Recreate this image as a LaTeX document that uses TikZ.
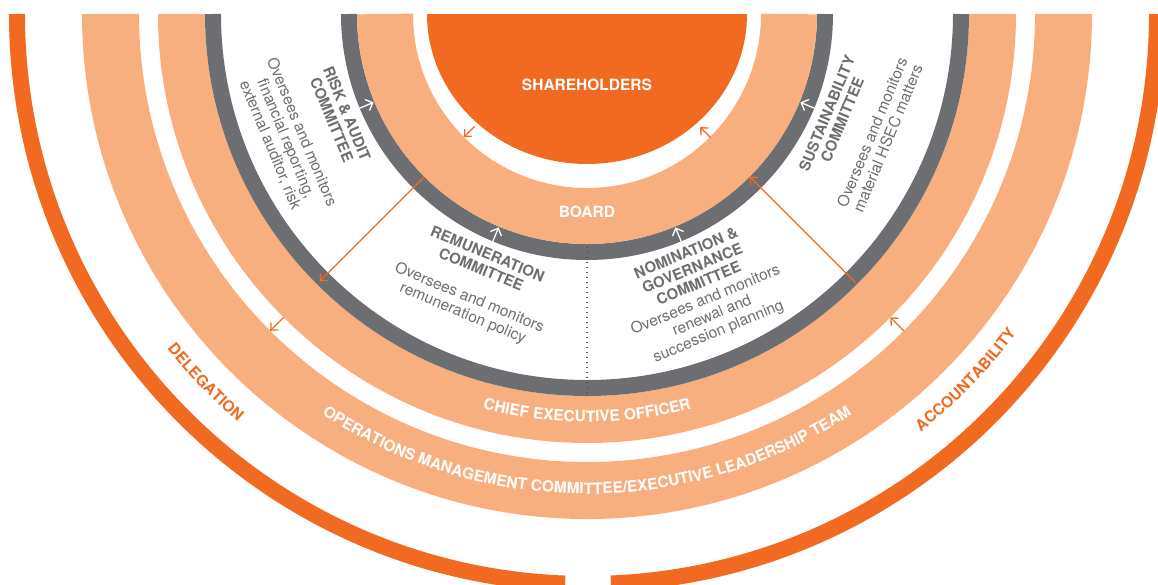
\documentclass[tikz,border=0pt]{standalone}
\usepackage{fontspec}
\setmainfont{TeX Gyre Heros}
\usepackage{tikz}
\usetikzlibrary{arrows.meta,decorations.text}
\definecolor{GOVorange}{HTML}{F26A22}
\definecolor{GOVpeach}{HTML}{F8AF80}
\definecolor{GOVgrey}{HTML}{6D6E71}
\definecolor{GOVtext}{HTML}{6D6E71}
\newcommand\ringfont{\fontsize{15.5}{18}\selectfont\bfseries}

\begin{document}
\begin{tikzpicture}[
  cttitle/.style={font=\fontsize{15}{16.5}\selectfont\bfseries, text=GOVtext, align=center, inner sep=0pt},
  blurb/.style={font=\fontsize{15.5}{17}\selectfont, text=GOVtext, align=center, inner sep=0pt},
  ringlabel/.style={font=\ringfont, text=white, inner sep=0pt},
  link/.style={GOVorange, line width=1.3pt, -{Straight Barb[length=5.5pt,width=10.5pt]}},
  wlink/.style={white, line width=1.3pt, -{Straight Barb[length=6pt,width=12pt]}},
  arctext/.style={decorate, decoration={text along path, text align=center, text color=#1}},
]
\useasboundingbox (-587pt,14pt) rectangle (571pt,-570pt);

% outer band, open at the bottom
\draw[GOVorange, line width=16pt] (180:570pt) arc[start angle=180, end angle=267.8, radius=570pt];
\draw[GOVorange, line width=16pt] (272.4:570pt) arc[start angle=272.4, end angle=360, radius=570pt];

% rings: management, CEO, committee band, board
\foreach \r/\w/\c in {476.5pt/57pt/GOVpeach, 405.5pt/47pt/GOVpeach, 374pt/16pt/GOVgrey, 238pt/16pt/GOVgrey, 202pt/56pt/GOVpeach}{
  \draw[\c, line width=\w] (180:\r) arc[start angle=180, end angle=360, radius=\r];
}
\fill[GOVorange] (-160pt,0pt) arc[start angle=180, end angle=360, x radius=160pt, y radius=150pt] -- cycle;

% split between the two middle committees
\coordinate (mid0) at (-90:233pt);
\coordinate (mid1) at (-90:380pt);
\draw[GOVgrey!75!black, line width=1.4pt, dash pattern=on 1.4pt off 3.6pt] (mid0) -- (mid1);

% delegation out on the left, accountability back on the right
\foreach \a/\ra/\rb [count=\i] in {-135/159pt/174pt, -45/175pt/160pt, -135/230pt/378pt, -45/380pt/230pt, -135/429pt/448pt, -45/448pt/429pt}{
  \coordinate (from\i) at (\a:\ra);
  \coordinate (to\i) at (\a:\rb);
  \draw[link] (from\i) -- (to\i);
}
\foreach \a [count=\i] in {-157.5,-112.5,-67.5,-22.5}{
  \coordinate (cf\i) at (\a:247pt);
  \coordinate (ct\i) at (\a:231pt);
  \draw[wlink] (cf\i) -- (ct\i);
}

\node[ringlabel] (share) at (0pt,-71pt) {SHAREHOLDERS};
\node[ringlabel] (board) at (0pt,-198pt) {BOARD};

% committees
\node[cttitle, rotate=-67.5] (risk) at (-157.5:268pt) {RISK \& AUDIT\\COMMITTEE};
\node[blurb, rotate=-67.5] (riskd) at (-157.5:326pt) {Oversees and monitors\\financial reporting,\\external auditor, risk};
\node[cttitle, rotate=-22.5] (rem) at (-112.5:268pt) {REMUNERATION\\COMMITTEE};
\node[blurb, rotate=-22.5] (remd) at (-112.5:316pt) {Oversees and monitors\\remuneration policy};
\node[cttitle, rotate=22.5] (nom) at (-67.5:275pt) {NOMINATION \&\\GOVERNANCE\\COMMITTEE};
\node[blurb, rotate=22.5] (nomd) at (-67.5:327pt) {Oversees and monitors\\renewal and\\succession planning};
\node[cttitle, rotate=67.5] (sus) at (-22.5:268pt) {SUSTAINABILITY\\COMMITTEE};
\node[blurb, rotate=67.5] (susd) at (-22.5:317pt) {Oversees and monitors\\material HSEC matters};

% curved ring labels
\path[arctext=white, decoration={text={|\ringfont|CHIEF EXECUTIVE OFFICER}}]
  (-125:408pt) arc[start angle=-125, end angle=-55, radius=408pt];
\path[arctext=white, decoration={text={|\ringfont|OPERATIONS MANAGEMENT COMMITTEE/EXECUTIVE LEADERSHIP TEAM}}]
  (-140:480pt) arc[start angle=-140, end angle=-40, radius=480pt];
\path[arctext=GOVorange, decoration={text={|\ringfont|DELEGATION}}]
  (-160:537pt) arc[start angle=-160, end angle=-112, radius=537pt];
\path[arctext=GOVorange, decoration={text={|\ringfont|ACCOUNTABILITY}}]
  (-68:535pt) arc[start angle=-68, end angle=-20, radius=535pt];
\end{tikzpicture}
\end{document}
